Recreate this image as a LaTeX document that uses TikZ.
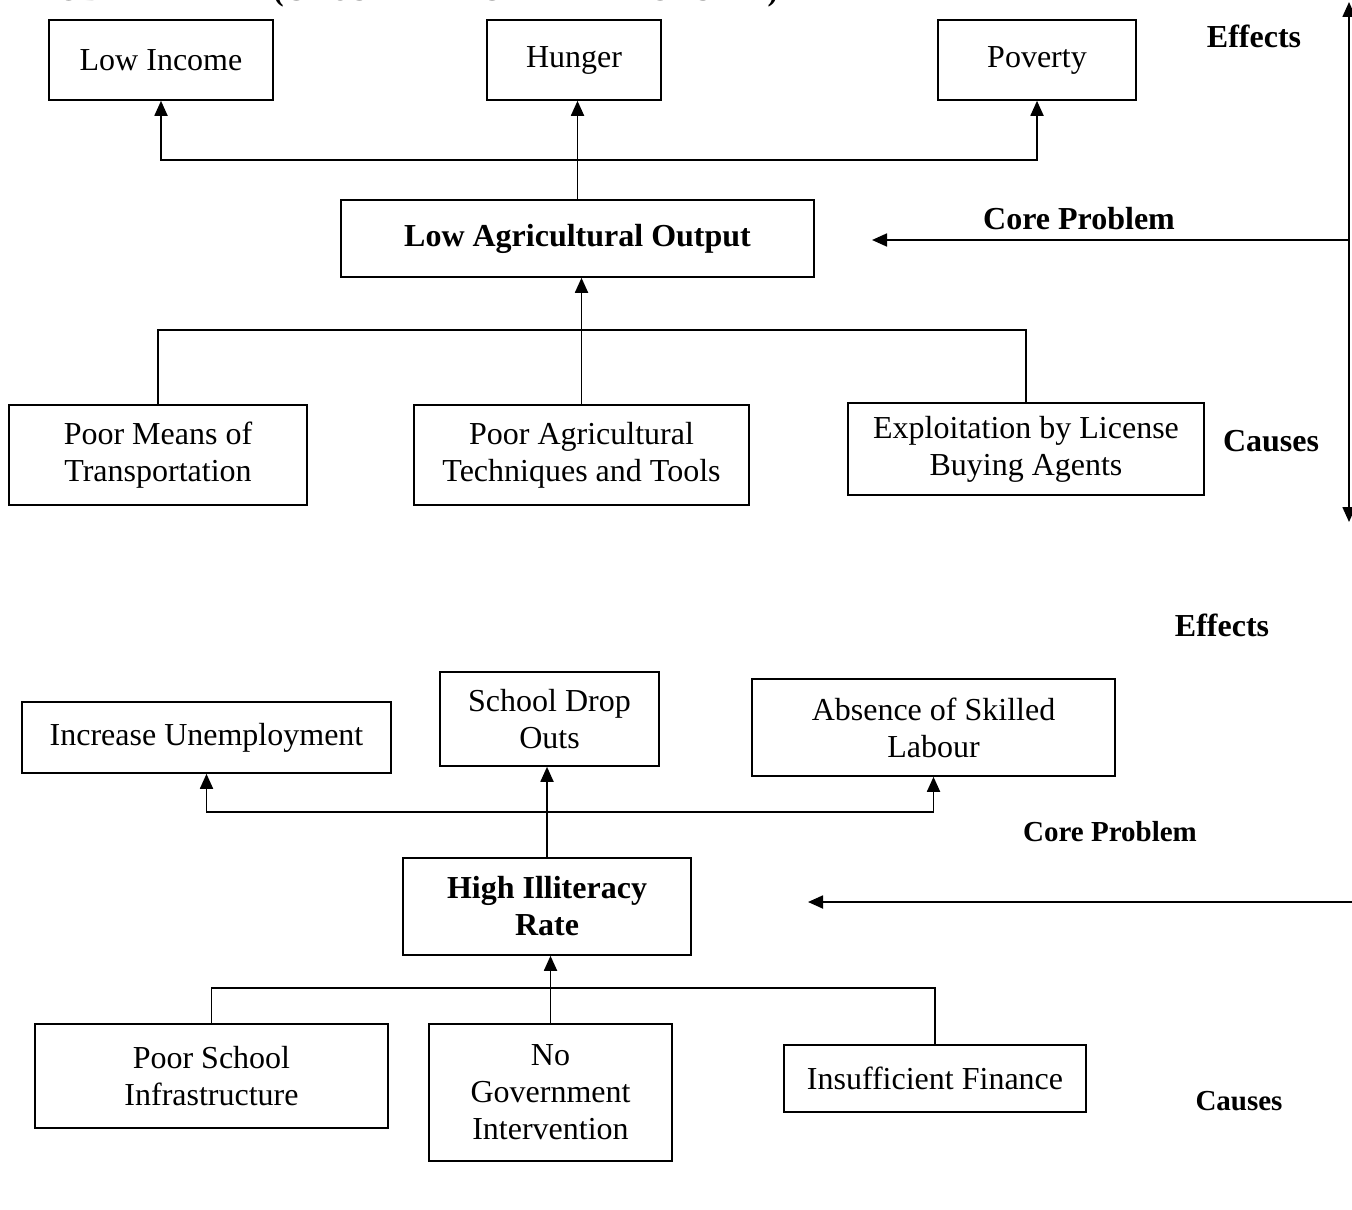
\documentclass[tikz,border=0pt]{standalone}
\usepackage{fontspec}
\setmainfont{Liberation Serif}
\usetikzlibrary{arrows.meta,positioning}

\begin{document}
\begin{tikzpicture}[x=0.5pt,y=-0.5pt,
    font=\fontsize{16}{18.5}\selectfont,
    box/.style={draw,line width=0.8pt,align=center,inner sep=0pt},
    core/.style={box,font=\bfseries\fontsize{16}{18.5}\selectfont},
    lbl/.style={font=\bfseries\fontsize{16}{18.5}\selectfont},
    lbls/.style={font=\bfseries\fontsize{14.5}{17}\selectfont},
    link/.style={line width=0.9pt},
    tip/.tip={Triangle[length=7.5pt,width=6.5pt]},
    arr/.style={link,-tip}]
    \useasboundingbox (0,0) rectangle (1352,1209);
    % title (cut by the page edge)
    \node[anchor=base west,font=\bfseries\fontsize{15.6}{18}\selectfont] (title) at (8,1)
      {PROBLEM TREE (CAUSE-EFFECT RELATIONSHIP)};
    % first tree
    \node[box,minimum width=112pt,minimum height=40pt] (inc) at (161,60) {Low Income};
    \node[box,minimum width=87pt,minimum height=40pt] (hun) at (574,60) {Hunger};
    \node[box,minimum width=99pt,minimum height=40pt] (pov) at (1037,60) {Poverty};
    \node[core,minimum width=236.5pt,minimum height=38.5pt] (out) at (577.5,238.5) {Low Agricultural Output};
    \node[box,minimum width=149pt,minimum height=50pt] (tra) at (158,455) {Poor Means of\\Transportation};
    \node[box,minimum width=167.5pt,minimum height=50pt] (tec) at (581.5,455) {Poor Agricultural\\Techniques and Tools};
    \node[box,minimum width=178pt,minimum height=46pt] (exp) at (1026,449) {Exploitation by License\\Buying Agents};
    \coordinate (e1) at (579,160);
    \coordinate (c1) at (579,330);
    \draw[arr] (out.north) -- (out.north |- hun.south);
    \draw[arr] (e1) -| (inc.south);
    \draw[arr] (e1) -| (pov.south);
    \draw[arr] (tec.north) -- (tec.north |- out.south);
    \draw[link] (tra.north) |- (c1) -| (exp.north);
    \node[lbl] (eff1) at (1254,36) {Effects};
    \node[lbl] (cp1) at (1079,219) {Core Problem};
    \node[lbl] (cau1) at (1271,441) {Causes};
    \coordinate (rt) at (1349,2);
    \coordinate (rb) at (1349,522);
    \coordinate (rm) at (1349,240);
    \coordinate (p1) at (872,240);
    \draw[link,tip-tip] (rt) -- (rb);
    \draw[arr] (rm) -- (p1);
    % second tree
    \node[box,minimum width=184.5pt,minimum height=35.5pt] (une) at (206.5,737.5) {Increase Unemployment};
    \node[box,minimum width=109.5pt,minimum height=47pt] (dro) at (549.5,719) {School Drop\\Outs};
    \node[box,minimum width=181.5pt,minimum height=48.5pt] (lab) at (933.5,727.5) {Absence of Skilled\\Labour};
    \node[core,minimum width=144pt,minimum height=48.5pt] (ill) at (547,906.5) {High Illiteracy\\Rate};
    \node[box,minimum width=176.5pt,minimum height=52pt] (inf) at (211.5,1076) {Poor School\\Infrastructure};
    \node[box,minimum width=121.5pt,minimum height=68.5pt] (gov) at (550.5,1092.5) {No\\Government\\Intervention};
    \node[box,minimum width=151pt,minimum height=33.5pt] (fin) at (935,1078.5) {Insufficient Finance};
    \coordinate (e2) at (548,812);
    \coordinate (c2) at (551,988);
    \draw[arr] (ill.north) -- (ill.north |- dro.south);
    \draw[arr] (e2) -| (une.south);
    \draw[arr] (e2) -| (lab.south);
    \draw[arr] (gov.north) -- (gov.north |- ill.south);
    \draw[link] (inf.north) |- (c2) -| (fin.north);
    \node[lbl] (eff2) at (1222,625) {Effects};
    \node[lbls] (cp2) at (1110,832) {Core Problem};
    \node[lbls] (cau2) at (1239,1101) {Causes};
    \coordinate (r2) at (1352,902);
    \coordinate (p2) at (808,902);
    \draw[arr] (r2) -- (p2);
\end{tikzpicture}
\end{document}
